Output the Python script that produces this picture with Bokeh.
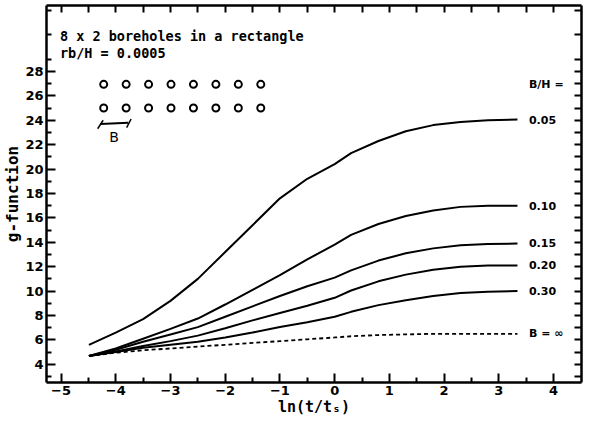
from bokeh.plotting import figure
from bokeh.models import Range1d, FixedTicker, LinearAxis, ColumnDataSource
from bokeh.core.properties import value
from bokeh.embed import file_html
from bokeh.resources import INLINE

# ---- data ----
ln_t = [-4.49, -4.0, -3.5, -3.0, -2.5, -2.0, -1.5, -1.0, -0.5, 0.0, 0.3, 0.8, 1.3, 1.8, 2.3, 2.8, 3.34]
g_005 = [5.6, 6.6, 7.7, 9.2, 11.0, 13.2, 15.4, 17.6, 19.2, 20.4, 21.3, 22.3, 23.1, 23.6, 23.85, 24.0, 24.05]
g_010 = [4.68, 5.3, 6.1, 6.9, 7.75, 8.9, 10.1, 11.3, 12.6, 13.8, 14.6, 15.5, 16.15, 16.6, 16.9, 17.0, 17.0]
g_015 = [4.68, 5.2, 5.85, 6.45, 7.05, 7.9, 8.75, 9.6, 10.4, 11.1, 11.7, 12.5, 13.1, 13.5, 13.75, 13.85, 13.9]
g_020 = [4.68, 5.05, 5.5, 5.9, 6.35, 6.95, 7.6, 8.2, 8.8, 9.45, 10.05, 10.8, 11.35, 11.75, 12.0, 12.1, 12.1]
g_030 = [4.68, 5.0, 5.35, 5.6, 5.85, 6.2, 6.6, 7.05, 7.45, 7.9, 8.3, 8.85, 9.25, 9.6, 9.85, 9.95, 10.0]
g_inf = [4.68, 4.95, 5.15, 5.3, 5.45, 5.6, 5.75, 5.9, 6.05, 6.2, 6.3, 6.4, 6.45, 6.5, 6.5, 6.5, 6.5]

curve_labels = ["0.05", "0.10", "0.15", "0.20", "0.30"]
inf_label = "B = \u221e"
header_label = "B/H ="
title_lines = ["8 x 2 boreholes in a rectangle", "rb/H = 0.0005"]
x_title = "ln(t/t\u209b)"
y_title = "g-function"
x_ticks = [-5, -4, -3, -2, -1, 0, 1, 2, 3, 4]
x_minor = [-5.5, -4.5, -3.5, -2.5, -1.5, -0.5, 0.5, 1.5, 2.5, 3.5]
y_ticks = [4, 6, 8, 10, 12, 14, 16, 18, 20, 22, 24, 26, 28]
y_minor = [3, 5, 7, 9, 11, 13, 15, 17, 19, 21, 23, 25, 27, 29, 31, 33]
n_cols, n_rows = 8, 2

MONO = value("DejaVu Sans Mono")
SANS = value("DejaVu Sans")

p = figure(width=583, height=418, output_backend="svg", toolbar_location=None,
           x_range=Range1d(-5.265, 4.51), y_range=Range1d(2.51, 33.4),
           x_axis_type=None, y_axis_type=None,
           min_border_left=0, min_border_right=2, min_border_top=5, min_border_bottom=0)
p.outline_line_color = None
p.xgrid.visible = False
p.ygrid.visible = False


def style_axis(ax, ticks, minor, show_labels):
    ax.axis_line_width = 2.5
    ax.axis_line_color = "black"
    ax.major_tick_out = 0
    ax.minor_tick_out = 0
    ax.major_tick_line_width = 2
    ax.minor_tick_line_width = 2
    ax.major_tick_line_color = "black"
    ax.minor_tick_line_color = "black"
    if show_labels:
        ax.ticker = FixedTicker(ticks=ticks, minor_ticks=minor)
        ax.major_tick_in = 9
        ax.minor_tick_in = 5
        ax.major_label_text_font = "DejaVu Sans"
        ax.major_label_text_font_style = "bold"
        ax.major_label_text_font_size = "13px"
        ax.major_label_text_color = "black"
        ax.major_label_standoff = 3
        ax.axis_label_text_font = "DejaVu Sans Mono"
        ax.axis_label_text_font_style = "bold"
        ax.axis_label_text_font_size = "15px"
        ax.axis_label_text_color = "black"
        ax.axis_label_standoff = 0
    else:
        # frame-side ticks only: every tick drawn as an unlabelled tick mark
        ax.ticker = FixedTicker(ticks=[], minor_ticks=sorted(ticks + minor))
        ax.minor_tick_in = 7
        ax.major_label_standoff = 0


bottom = LinearAxis(axis_label=x_title)
style_axis(bottom, x_ticks, x_minor, True)
p.add_layout(bottom, "below")
top = LinearAxis()
style_axis(top, x_ticks, x_minor, False)
p.add_layout(top, "above")
left = LinearAxis(axis_label=y_title)
style_axis(left, y_ticks, y_minor, True)
left.axis_label_text_font_size = "16px"
p.add_layout(left, "left")
right = LinearAxis()
style_axis(right, y_ticks, y_minor, False)
p.add_layout(right, "right")

# curves
for g in [g_005, g_010, g_015, g_020, g_030]:
    p.line(ln_t, g, line_color="black", line_width=2)
p.line(ln_t, g_inf, line_color="black", line_width=1.8, line_dash="4 3")

# curve labels
lab_x = 3.55
src = ColumnDataSource(dict(x=[lab_x] * 6,
                            y=[g_005[-1], g_010[-1], g_015[-1], g_020[-1], g_030[-1], g_inf[-1]],
                            t=curve_labels + [inf_label]))
p.text(x="x", y="y", text="t", source=src, text_font=SANS, text_font_style="bold",
       text_font_size="11px", text_baseline="middle", text_align="left", text_color="black")
p.text(x=[lab_x], y=[26.9], text=[header_label], text_font=SANS, text_font_style="bold",
       text_font_size="11px", text_baseline="middle", text_align="left", text_color="black")

# title text
p.text(x=[-5.02, -5.02], y=[30.9, 29.5], text=title_lines, text_font=MONO, text_font_style="bold",
       text_font_size="13.5px", text_baseline="middle", text_align="left", text_color="black")

# borehole schematic
bx0, bdx = -4.22, 0.41
row_y = [26.94, 25.0]
xs = [bx0 + i * bdx for r in range(n_rows) for i in range(n_cols)]
ys = [row_y[r] for r in range(n_rows) for i in range(n_cols)]
p.scatter(xs, ys, marker="circle", size=7, fill_color="white", line_color="black", line_width=2)
p.segment(x0=[-4.28], y0=[23.7], x1=[-3.77], y1=[23.8], line_color="black", line_width=2)
p.segment(x0=[-4.33, -3.80], y0=[23.3, 23.4], x1=[-4.23, -3.72], y1=[24.0, 24.1],
          line_color="black", line_width=1.5)
p.text(x=[-4.03], y=[22.6], text=["B"], text_font=SANS, text_font_size="14px",
       text_baseline="middle", text_align="center", text_color="black")

open("out.html", "w").write(file_html(p, INLINE))
